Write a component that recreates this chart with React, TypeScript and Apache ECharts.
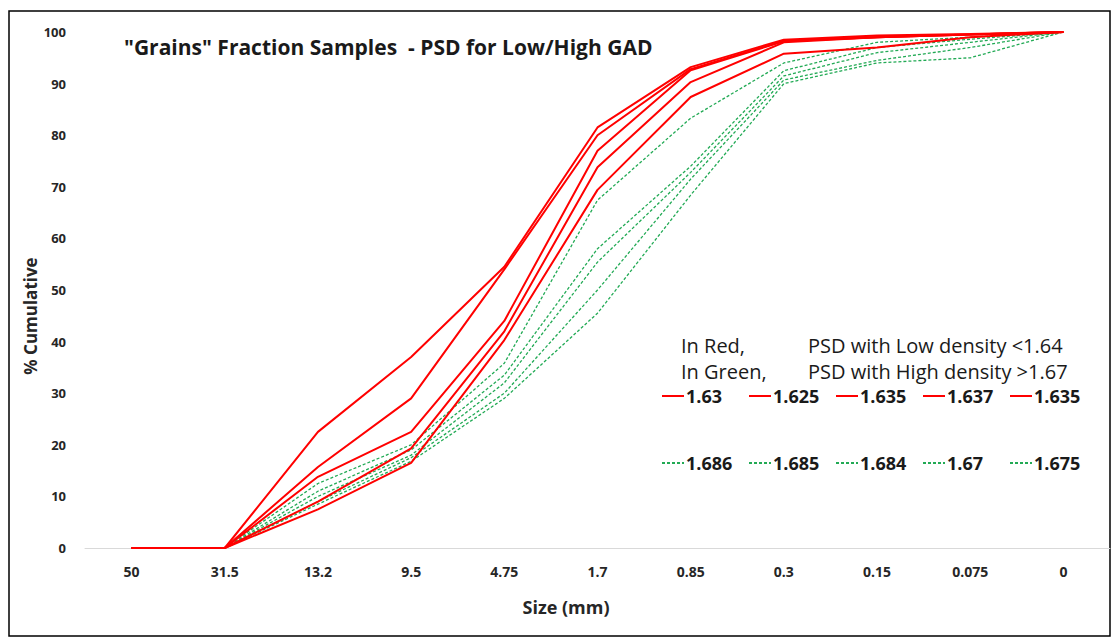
import React, { useEffect, useRef } from "react";
import * as echarts from "echarts";

const categories = ["50", "31.5", "13.2", "9.5", "4.75", "1.7", "0.85", "0.3", "0.15", "0.075", "0"];
const yTicks = { min: 0, max: 100, interval: 10 };

const redLabels = ["1.63", "1.625", "1.635", "1.637", "1.635"];
const red1 = [0, 0, 22.5, 37, 54.5, 81.5, 93.2, 98.5, 99.3, 99.6, 100];
const red2 = [0, 0, 15.7, 29, 54, 80, 92.8, 98.3, 99, 99.5, 100];
const red3 = [0, 0, 13.8, 22.5, 44, 77, 92.6, 98.2, 99, 99.5, 100];
const red4 = [0, 0, 9, 19.3, 42, 73.8, 90.3, 98, 99, 99.5, 100];
const red5 = [0, 0, 7.5, 16.5, 40.3, 69.4, 87.4, 95.8, 97, 99, 100];

const greenLabels = ["1.686", "1.685", "1.684", "1.67", "1.675"];
const green1 = [0, 0, 12.5, 20, 35.8, 67.4, 83.3, 94, 98, 99, 100];
const green2 = [0, 0, 11, 19, 33.5, 58, 74, 92.5, 97, 98.6, 100];
const green3 = [0, 0, 10, 18, 32, 55.4, 72.8, 91.5, 96, 98, 100];
const green4 = [0, 0, 9, 17.5, 30, 50, 71.5, 90.7, 94.5, 97, 100];
const green5 = [0, 0, 8.5, 16.8, 29, 45.5, 68.4, 90, 94, 95, 100];

const redData = [red1, red2, red3, red4, red5];
const greenData = [green1, green2, green3, green4, green5];

const title = '"Grains" Fraction Samples  - PSD for Low/High GAD';
const noteLines = [
  ["In Red,", "PSD with Low density <1.64"],
  ["In Green,", "PSD with High density >1.67"],
];

const FONT = "'Open Sans', 'Noto Sans', sans-serif";
const RED = "#FF0000";
const GREEN = "#22AA55";

export default function App() {
  const ref = useRef<HTMLDivElement>(null);
  useEffect(() => {
    if (!ref.current) return;
    const chart = echarts.init(ref.current, null, { renderer: "svg" });
    const labelOf: Record<string, string> = {};
    const series: any[] = [];
    const legends: any[] = [];
    const legendX = [661, 748, 835, 922, 1009];
    redData.forEach((d, i) => {
      const name = `red-${i}`;
      labelOf[name] = redLabels[i];
      series.push({
        name,
        type: "line",
        data: d,
        symbol: "none",
        lineStyle: { color: RED, width: 2, type: "solid" },
        itemStyle: { color: RED },
        z: 3,
      });
      legends.push({ name, x: legendX[i], y: 387 });
    });
    greenData.forEach((d, i) => {
      const name = `green-${i}`;
      labelOf[name] = greenLabels[i];
      series.push({
        name,
        type: "line",
        data: d,
        symbol: "none",
        lineStyle: { color: GREEN, width: 1.3, type: [3, 2] },
        itemStyle: { color: GREEN },
        z: 2,
      });
      legends.push({ name, x: legendX[i], y: 454 });
    });

    chart.setOption({
      animation: false,
      backgroundColor: "#ffffff",
      grid: { left: 85, right: 3, top: 32, bottom: 89, containLabel: false },
      xAxis: {
        type: "category",
        data: categories,
        boundaryGap: true,
        axisLine: { lineStyle: { color: "#d9d9d9", width: 1 } },
        axisTick: { show: false },
        axisLabel: { color: "#262626", fontSize: 14, fontWeight: "bold", fontFamily: FONT, margin: 16 },
        splitLine: { show: false },
      },
      yAxis: {
        type: "value",
        min: yTicks.min,
        max: yTicks.max,
        interval: yTicks.interval,
        axisLine: { show: false },
        axisTick: { show: false },
        splitLine: { show: false },
        axisLabel: { color: "#262626", fontSize: 13, fontWeight: "bold", fontFamily: FONT, margin: 19 },
      },
      legend: legends.map((l) => ({
        data: [l.name],
        left: l.x,
        top: l.y,
        padding: 0,
        itemWidth: 22,
        itemHeight: 14,
        itemGap: 0,
        selectedMode: false,
        itemStyle: { opacity: 0, color: "transparent", borderWidth: 0 },
        formatter: (n: string) => labelOf[n],
        textStyle: { color: "#1a1a1a", fontSize: 18, fontWeight: "bold", fontFamily: FONT, padding: [0, 0, 0, -3] },
      })),
      graphic: [
        {
          type: "rect",
          shape: { x: 9, y: 11, width: 1101, height: 625 },
          style: { fill: "none", stroke: "#000", lineWidth: 1.5 },
          silent: true,
          z: 0,
        },
        {
          type: "text",
          x: 124,
          y: 47,
          style: { text: title, fill: "#1a1a1a", font: `bold 21px ${FONT}`, textVerticalAlign: "middle" },
        },
        {
          type: "text",
          x: 681,
          y: 345,
          style: { text: noteLines[0][0], fill: "#1a1a1a", font: `20px ${FONT}`, textVerticalAlign: "middle" },
        },
        {
          type: "text",
          x: 808,
          y: 345,
          style: { text: noteLines[0][1], fill: "#1a1a1a", font: `20px ${FONT}`, textVerticalAlign: "middle" },
        },
        {
          type: "text",
          x: 681,
          y: 371,
          style: { text: noteLines[1][0], fill: "#1a1a1a", font: `20px ${FONT}`, textVerticalAlign: "middle" },
        },
        {
          type: "text",
          x: 808,
          y: 371,
          style: { text: noteLines[1][1], fill: "#1a1a1a", font: `20px ${FONT}`, textVerticalAlign: "middle" },
        },
        {
          type: "text",
          x: 566,
          y: 607,
          style: { text: "Size (mm)", fill: "#262626", font: `bold 18px ${FONT}`, textAlign: "center", textVerticalAlign: "middle" },
        },
        {
          type: "text",
          x: 30,
          y: 316,
          rotation: Math.PI / 2,
          style: { text: "% Cumulative", fill: "#262626", font: `bold 17px ${FONT}`, textAlign: "center", textVerticalAlign: "middle" },
        },
      ],
      series,
    });
    return () => chart.dispose();
  }, []);
  return <div ref={ref} style={{ position: "fixed", left: 0, top: 0, width: 1113, height: 637 }} />;
}
